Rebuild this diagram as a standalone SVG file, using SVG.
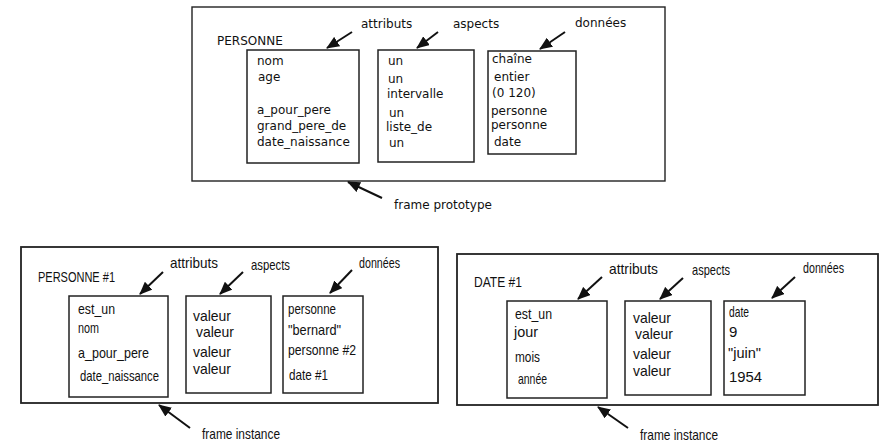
<svg xmlns="http://www.w3.org/2000/svg" width="879" height="444" viewBox="0 0 879 444">
<style>
.frame{fill:#fff;stroke:#222;stroke-width:1.4}
.frame2{fill:#fff;stroke:#222;stroke-width:1.8}
.box{fill:#fff;stroke:#222;stroke-width:1.5}
.t{font-family:"DejaVu Sans","Liberation Sans",sans-serif;font-size:12px;fill:#111}
.b{font-family:"Liberation Sans Narrow","Liberation Sans",sans-serif;font-size:15px;fill:#111}
.arr{stroke:#111;stroke-width:2;fill:none;marker-end:url(#ah)}
</style>
<defs>
<marker id="ah" markerUnits="userSpaceOnUse" markerWidth="13" markerHeight="11" refX="12" refY="5.5" orient="auto">
<path d="M0,0 L13,5.5 L0,11 z" fill="#111"/>
</marker>
</defs>
<rect width="879" height="444" fill="#fff"/>

<g id="frame-prototype">
<rect class="frame" x="192" y="7" width="473" height="174"/>
<text class="t" x="217" y="45">PERSONNE</text>
<text class="t" x="361" y="28">attributs</text>
<text class="t" x="453" y="28">aspects</text>
<text class="t" x="575" y="27">données</text>
<text class="t" x="394" y="209">frame prototype</text>
</g>
<g id="proto-attributs">
<rect class="box" x="247" y="50" width="112" height="113"/>
<text class="t" x="257" y="65">nom</text>
<text class="t" x="258" y="81">age</text>
<text class="t" x="257" y="114">a_pour_pere</text>
<text class="t" x="257" y="130">grand_pere_de</text>
<text class="t" x="257" y="146">date_naissance</text>
</g>
<g id="proto-aspects">
<rect class="box" x="378" y="50" width="96" height="112"/>
<text class="t" x="388" y="65">un</text>
<text class="t" x="388" y="83">un</text>
<text class="t" x="387" y="98">intervalle</text>
<text class="t" x="389" y="117">un</text>
<text class="t" x="386" y="131">liste_de</text>
<text class="t" x="389" y="147">un</text>
</g>
<g id="proto-donnees">
<rect class="box" x="488" y="51" width="88" height="103"/>
<text class="t" x="492" y="63">chaîne</text>
<text class="t" x="494" y="81">entier</text>
<text class="t" x="492" y="97">(0 120)</text>
<text class="t" x="491" y="115">personne</text>
<text class="t" x="491" y="129">personne</text>
<text class="t" x="494" y="146">date</text>
</g>

<g id="frame-instance-personne">
<rect class="frame2" x="21" y="247" width="417" height="156"/>
<text class="b" x="38" y="282" textLength="77" lengthAdjust="spacingAndGlyphs">PERSONNE #1</text>
<text class="b" x="170" y="268" textLength="48" lengthAdjust="spacingAndGlyphs">attributs</text>
<text class="b" x="251" y="270" textLength="39" lengthAdjust="spacingAndGlyphs">aspects</text>
<text class="b" x="359" y="268" textLength="41" lengthAdjust="spacingAndGlyphs">données</text>
<text class="b" x="202" y="439" textLength="78" lengthAdjust="spacingAndGlyphs">frame instance</text>
</g>
<g id="inst1-attributs">
<rect class="box" x="69" y="296" width="99" height="101"/>
<text class="b" x="78" y="314" textLength="37" lengthAdjust="spacingAndGlyphs">est_un</text>
<text class="b" x="78" y="333" textLength="21" lengthAdjust="spacingAndGlyphs">nom</text>
<text class="b" x="78" y="358" textLength="71" lengthAdjust="spacingAndGlyphs">a_pour_pere</text>
<text class="b" x="80" y="381" textLength="79" lengthAdjust="spacingAndGlyphs">date_naissance</text>
</g>
<g id="inst1-aspects">
<rect class="box" x="186" y="296" width="85" height="97"/>
<text class="b" x="193" y="321" textLength="38" lengthAdjust="spacingAndGlyphs">valeur</text>
<text class="b" x="196" y="337" textLength="38" lengthAdjust="spacingAndGlyphs">valeur</text>
<text class="b" x="193" y="357" textLength="38" lengthAdjust="spacingAndGlyphs">valeur</text>
<text class="b" x="193" y="374" textLength="38" lengthAdjust="spacingAndGlyphs">valeur</text>
</g>
<g id="inst1-donnees">
<rect class="box" x="283" y="296" width="80" height="97"/>
<text class="b" x="288" y="314" textLength="48" lengthAdjust="spacingAndGlyphs">personne</text>
<text class="b" x="288" y="335" textLength="53" lengthAdjust="spacingAndGlyphs">"bernard"</text>
<text class="b" x="288" y="355" textLength="68" lengthAdjust="spacingAndGlyphs">personne #2</text>
<text class="b" x="289" y="380" textLength="39" lengthAdjust="spacingAndGlyphs">date #1</text>
</g>

<g id="frame-instance-date">
<rect class="frame2" x="457" y="254" width="421" height="151"/>
<text class="b" x="474" y="287" textLength="48" lengthAdjust="spacingAndGlyphs">DATE #1</text>
<text class="b" x="609" y="274" textLength="49" lengthAdjust="spacingAndGlyphs">attributs</text>
<text class="b" x="692" y="275" textLength="38" lengthAdjust="spacingAndGlyphs">aspects</text>
<text class="b" x="803" y="273" textLength="41" lengthAdjust="spacingAndGlyphs">données</text>
<text class="b" x="640" y="440" textLength="78" lengthAdjust="spacingAndGlyphs">frame instance</text>
</g>
<g id="inst2-attributs">
<rect class="box" x="507" y="301" width="100" height="97"/>
<text class="b" x="515" y="319" textLength="37" lengthAdjust="spacingAndGlyphs">est_un</text>
<text class="b" x="514" y="337" textLength="24" lengthAdjust="spacingAndGlyphs">jour</text>
<text class="b" x="515" y="362" textLength="25" lengthAdjust="spacingAndGlyphs">mois</text>
<text class="b" x="518" y="384" textLength="29" lengthAdjust="spacingAndGlyphs">année</text>
</g>
<g id="inst2-aspects">
<rect class="box" x="625" y="301" width="86" height="94"/>
<text class="b" x="633" y="323" textLength="38" lengthAdjust="spacingAndGlyphs">valeur</text>
<text class="b" x="635" y="339" textLength="38" lengthAdjust="spacingAndGlyphs">valeur</text>
<text class="b" x="633" y="359" textLength="38" lengthAdjust="spacingAndGlyphs">valeur</text>
<text class="b" x="633" y="376" textLength="38" lengthAdjust="spacingAndGlyphs">valeur</text>
</g>
<g id="inst2-donnees">
<rect class="box" x="724" y="301" width="81" height="94"/>
<text class="b" x="729" y="317" textLength="20" lengthAdjust="spacingAndGlyphs">date</text>
<text class="b" x="729" y="337">9</text>
<text class="b" x="728" y="358" textLength="33" lengthAdjust="spacingAndGlyphs">"juin"</text>
<text class="b" x="729" y="382" textLength="33" lengthAdjust="spacingAndGlyphs">1954</text>
</g>

<g id="connectors">
<line class="arr" x1="352" y1="32" x2="327" y2="48"/>
<line class="arr" x1="438" y1="32" x2="417" y2="48"/>
<line class="arr" x1="565" y1="32" x2="540" y2="49"/>
<line class="arr" x1="382" y1="198" x2="348" y2="182"/>
<line class="arr" x1="163" y1="272" x2="140" y2="294"/>
<line class="arr" x1="243" y1="272" x2="220" y2="294"/>
<line class="arr" x1="352" y1="270" x2="330" y2="293"/>
<line class="arr" x1="190" y1="428" x2="159" y2="405"/>
<line class="arr" x1="602" y1="277" x2="578" y2="299"/>
<line class="arr" x1="683" y1="278" x2="660" y2="299"/>
<line class="arr" x1="795" y1="277" x2="772" y2="298"/>
<line class="arr" x1="628" y1="428" x2="598" y2="407"/>
</g>
</svg>
